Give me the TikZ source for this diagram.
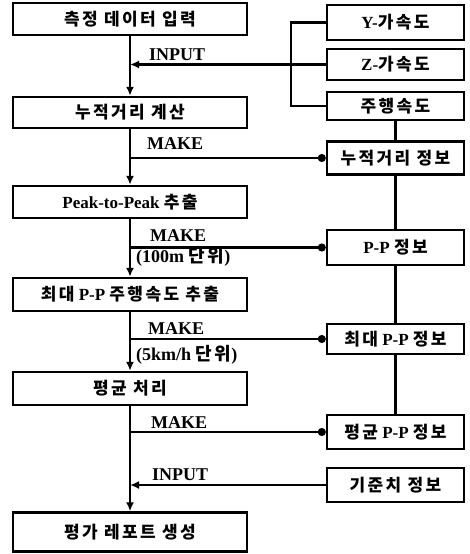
\documentclass[tikz,border=0pt]{standalone}
\usepackage{fontspec}
\setmainfont{Liberation Serif}
\newfontfamily\kr{Noto Sans CJK KR}[LetterSpace=14]
\usetikzlibrary{arrows.meta}
\newcommand\K[1]{{\kr #1}}
\begin{document}
\begin{tikzpicture}[x=1pt,y=-1pt,
  boxbase/.style={draw, line width=2.4pt, inner sep=0pt,
    font=\fontsize{17}{17}\selectfont\bfseries},
  lbox/.style={boxbase, minimum width=234pt},
  rbox/.style={boxbase, minimum width=137pt},
  conn/.style={line width=2.1pt},
  arr/.style={conn, -{Latex[length=9pt,width=8pt]}},
  dotend/.style={conn, -{Circle[length=8pt]}},
  lab/.style={anchor=west, inner sep=0pt, font=\fontsize{18}{18}\selectfont\bfseries}]
\useasboundingbox (0,0) rectangle (470,554);
% left column
\node[lbox, minimum height=32pt] (b1) at (130,19) {\K{측정 데이터 입력}};
\node[lbox, minimum height=31pt] (b2) at (130,112.5) {\K{누적거리 계산}};
\node[lbox, minimum height=32pt] (b3) at (130,202) {Peak-to-Peak \K{추출}};
\node[lbox, minimum height=33pt] (b4) at (130,294.5) {\K{최대} P-P \K{주행속도 추출}};
\node[lbox, minimum height=33pt] (b5) at (130,388.5) {\K{평균 처리}};
\node[lbox, minimum height=39pt] (b6) at (130,532) {\K{평가 레포트 생성}};
% right column
\node[rbox, minimum height=35pt] (ry) at (395.5,22.5) {Y-\K{가속도}};
\node[rbox, minimum height=31pt] (rz) at (395.5,64.5) {Z-\K{가속도}};
\node[rbox, minimum height=28pt] (rs) at (395.5,106) {\K{주행속도}};
\node[rbox, minimum height=33pt] (r1) at (395.5,158) {\K{누적거리 정보}};
\node[rbox, minimum height=35pt] (r2) at (395.5,247.5) {P-P \K{정보}};
\node[rbox, minimum height=30pt] (r3) at (395.5,339) {\K{최대} P-P \K{정보}};
\node[rbox, minimum height=34pt] (r4) at (395.5,432) {\K{평균} P-P \K{정보}};
\node[rbox, minimum height=34pt] (r5) at (395.5,485) {\K{기준치 정보}};
% main flow
\draw[arr] (b1) -- (b2);
\draw[arr] (b2) -- (b3);
\draw[arr] (b3) -- (b4);
\draw[arr] (b4) -- (b5);
\draw[arr] (b5) -- (b6);
% input bracket
\draw[conn] (ry.west) -- ++(-35,0) |- (rs.west);
\draw[arr] (rz.west) -- (rz.west -| b1.center);
\draw[arr] (r5.west) -- (r5.west -| b6.center);
% right chain
\draw[conn] (rs) -- (r1);
\draw[conn] (r1) -- (r2);
\draw[conn] (r2) -- (r3);
\draw[conn] (r3) -- (r4);
% make lines
\draw[dotend] (r1.west -| b2.center) -- (r1.west);
\draw[dotend] (r2.west -| b3.center) -- (r2.west);
\draw[dotend] (r3.west -| b4.center) -- (r3.west);
\draw[dotend] (r4.west -| b5.center) -- (r4.west);
% labels
\node[lab] (l1) at (149,55) {INPUT};
\node[lab] (l2) at (147,144) {MAKE};
\node[lab] (l3) at (150,236) {MAKE};
\node[lab] (l4) at (136,257) {(100m \K{단위})};
\node[lab] (l5) at (148,329) {MAKE};
\node[lab] (l6) at (136,355) {(5km/h \K{단위})};
\node[lab] (l7) at (151,423) {MAKE};
\node[lab] (l8) at (152,475) {INPUT};
\end{tikzpicture}
\end{document}
